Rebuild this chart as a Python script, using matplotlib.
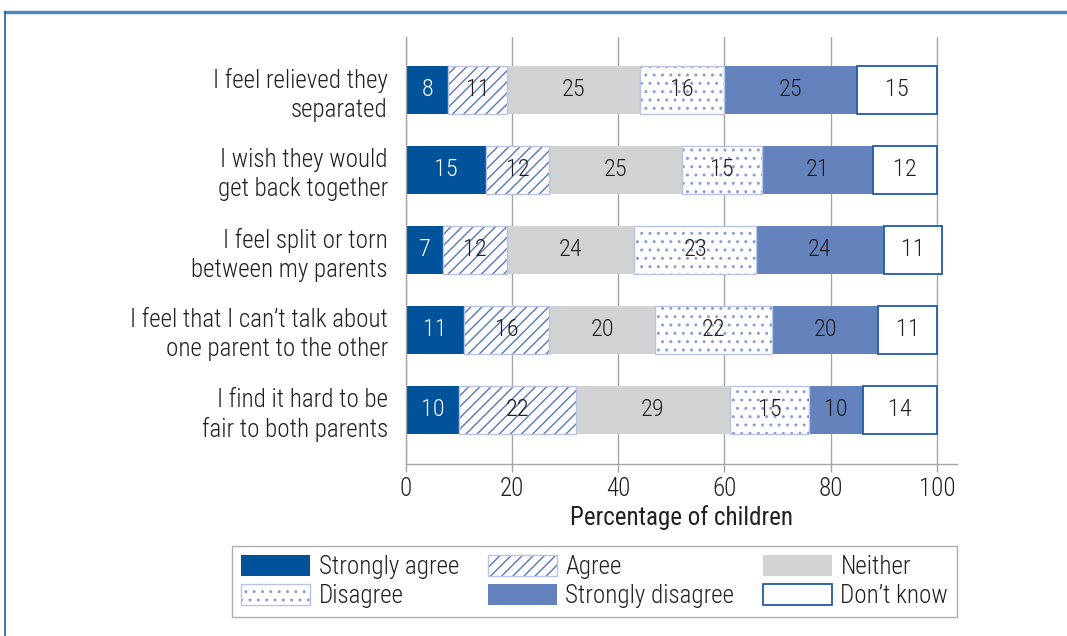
import matplotlib
matplotlib.use("Agg")
import matplotlib.pyplot as plt
from matplotlib import font_manager
from matplotlib.patches import Patch
from matplotlib.lines import Line2D
import numpy as np

# pick a narrow sans face if one is installed
fonts = font_manager.fontManager.ttflist
names = {f.name for f in fonts}
family = 'Lato'
for cand in ['Liberation Sans Narrow', 'Roboto Condensed', 'Open Sans Condensed']:
    if cand in names:
        family = cand
        break
plt.rcParams['font.family'] = [family, 'DejaVu Sans']
plt.rcParams['font.weight'] = 'light'
plt.rcParams['hatch.linewidth'] = 1.0

categories = [
    "I feel relieved they\nseparated",
    "I wish they would\nget back together",
    "I feel split or torn\nbetween my parents",
    "I feel that I can\u2019t talk about\none parent to the other",
    "I find it hard to be\nfair to both parents",
]
series_names = ["Strongly agree", "Agree", "Neither", "Disagree",
                "Strongly disagree", "Don\u2019t know"]
strongly_agree = [8, 15, 7, 11, 10]
agree = [11, 12, 12, 16, 22]
neither = [25, 25, 24, 20, 29]
disagree = [16, 15, 23, 22, 15]
strongly_disagree = [25, 21, 24, 20, 10]
dont_know = [15, 12, 11, 11, 14]
xticks = [0, 20, 40, 60, 80, 100]

series = [strongly_agree, agree, neither, disagree, strongly_disagree, dont_know]

dark = '#231f20'
# face, hatch colour, hatch, border colour, label colour
styles = [
    dict(face='#00529b', hcol=None, hatch=None, edge='#00529b', lw=0, txt='white'),
    dict(face='white', hcol='#5876c2', hatch='///', edge='#b7c4e6', lw=1.0, txt=dark),
    dict(face='#d1d2d4', hcol=None, hatch=None, edge='#d1d2d4', lw=0, txt=dark),
    dict(face='white', hcol='#8c9fd4', hatch='..', edge='#b7c4e6', lw=1.0, txt=dark),
    dict(face='#6482bb', hcol=None, hatch=None, edge='#6482bb', lw=0, txt=dark),
    dict(face='white', hcol=None, hatch=None, edge='#1f5ea0', lw=1.3, txt=dark),
]

fig = plt.figure(figsize=(10.67, 6.36), dpi=100)
ax = fig.add_axes([406 / 1067, 1 - 464 / 636, (957 - 406) / 1067, (464 - 37) / 636])

y = np.arange(len(categories))
h = 0.6
left = np.zeros(len(categories))
handles = []
for vals, st in zip(series, styles):
    vals = np.array(vals, dtype=float)
    if st['hatch']:
        ax.barh(y, vals, height=h, left=left, color=st['face'],
                edgecolor=st['hcol'], hatch=st['hatch'], linewidth=0, zorder=2)
        ax.barh(y, vals, height=h, left=left, color='none',
                edgecolor=st['edge'], linewidth=st['lw'], zorder=3)
        hp = (Patch(facecolor=st['face'], edgecolor=st['hcol'], hatch=st['hatch'], linewidth=0),
              Patch(facecolor='none', edgecolor=st['edge'], linewidth=st['lw']))
    else:
        ax.barh(y, vals, height=h, left=left, color=st['face'],
                edgecolor=st['edge'], linewidth=st['lw'], zorder=2)
        hp = Patch(facecolor=st['face'], edgecolor=st['edge'], linewidth=st['lw'])
    handles.append(hp)
    for yi, l, v in zip(y, left, vals):
        ax.text(l + v / 2, yi, f"{int(v)}", ha='center', va='center',
                fontsize=17.5, color=st['txt'], zorder=4)
    left = left + vals

ax.set_xlim(0, 103.8)
ax.set_ylim(4.675, -0.66)
ax.set_xticks(xticks)
ax.set_xticklabels([str(t) for t in xticks], fontsize=18, color=dark)
ax.set_yticks(y)
ax.set_yticklabels(categories, fontsize=18, color=dark, linespacing=1.25)
ax.tick_params(axis='y', length=0, pad=13)
ax.tick_params(axis='x', length=6, color='#a6a6a6', width=1, pad=3)
ax.xaxis.grid(True, color='#a6a6a6', linewidth=1)
ax.set_axisbelow(True)
for s in ['top', 'right']:
    ax.spines[s].set_visible(False)
for s in ['left', 'bottom']:
    ax.spines[s].set_color('#a6a6a6')
    ax.spines[s].set_linewidth(1)
ax.set_xlabel("Percentage of children", fontsize=18, color=dark, labelpad=3)

# legend laid out row by row
order = [0, 3, 1, 4, 2, 5]
leg = fig.legend([handles[i] for i in order], [series_names[i] for i in order],
                 ncol=3, loc='upper right',
                 bbox_to_anchor=(957 / 1067, 1 - 546 / 636),
                 frameon=True, fancybox=False, edgecolor='#999999',
                 fontsize=18, handlelength=2.75, handleheight=0.9,
                 handletextpad=0.35, columnspacing=1.15, labelspacing=0.2,
                 borderpad=0.35, borderaxespad=0)
leg.get_frame().set_linewidth(1)
for t in leg.get_texts():
    t.set_color(dark)

# outer frame lines
fig.add_artist(Line2D([5 / 1067, 1], [1 - 12 / 636, 1 - 12 / 636],
                      color='#4f8abc', linewidth=2.5, transform=fig.transFigure))
fig.add_artist(Line2D([5 / 1067, 5 / 1067], [0, 1 - 12 / 636],
                      color='#1f5ea0', linewidth=1.2, transform=fig.transFigure))

fig.savefig("out.png", dpi=100)
